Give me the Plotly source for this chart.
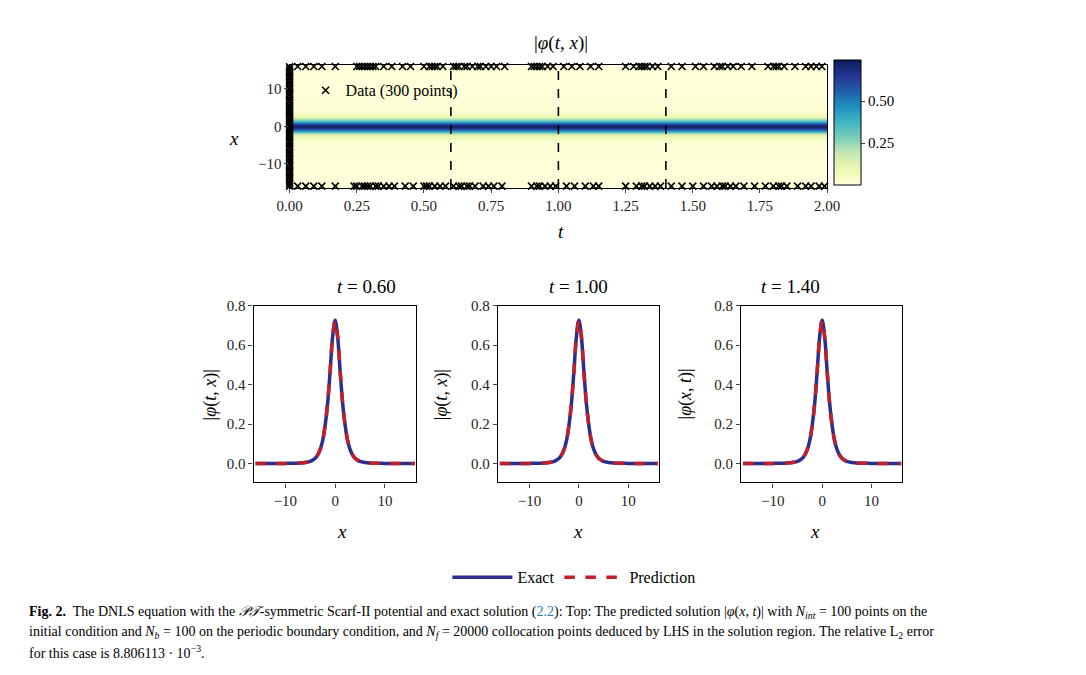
import plotly.graph_objects as go

# profile |phi| vs x
x_prof = [-16, -14, -12, -10, -8, -7, -6, -5, -4, -3.5, -3, -2.5, -2, -1.5, -1, -0.5, 0,
          0.5, 1, 1.5, 2, 2.5, 3, 3.5, 4, 5, 6, 7, 8, 10, 12, 14, 16]
phi_prof = [0.0001, 0.0002, 0.0004, 0.0013, 0.0024, 0.0035, 0.006, 0.011, 0.027, 0.044, 0.072, 0.118, 0.196, 0.308, 0.470, 0.643, 0.725,
            0.643, 0.470, 0.308, 0.196, 0.118, 0.072, 0.044, 0.027, 0.011, 0.006, 0.0035, 0.0024, 0.0013, 0.0004, 0.0002, 0.0001]
t_grid = [0.0, 2.0]
slice_times = [0.60, 1.00, 1.40]

# data points
x_init = [-16, -15.4, -14.9, -14.1, -13.6, -13.0, -12.3, -11.8, -11.1, -10.5, -9.9, -9.2, -8.6, -8.1, -7.4,
          -6.9, -6.2, -5.6, -5.0, -4.3, -3.8, -3.1, -2.5, -1.9, -1.2, -0.7, -0.1, 0.5, 1.1, 1.8, 2.3,
          3.0, 3.6, 4.2, 4.9, 5.4, 6.1, 6.7, 7.2, 7.9, 8.5, 9.1, 9.8, 10.3, 11.0, 11.6, 12.2, 12.9,
          13.4, 14.1, 14.7, 15.3, 15.9]
t_top = [0.03, 0.06, 0.09, 0.12, 0.17, 0.25, 0.26, 0.27, 0.28, 0.29, 0.30, 0.31, 0.32, 0.35, 0.38,
         0.42, 0.45, 0.50, 0.52, 0.53, 0.54, 0.55, 0.57, 0.61, 0.62, 0.63, 0.65, 0.66, 0.68, 0.70,
         0.71, 0.73, 0.75, 0.77, 0.80, 0.90, 0.91, 0.92, 0.93, 0.94, 0.96, 0.98, 1.02, 1.05, 1.08,
         1.12, 1.15, 1.25, 1.28, 1.30, 1.31, 1.32, 1.33, 1.35, 1.37, 1.42, 1.46, 1.51, 1.54, 1.58,
         1.60, 1.61, 1.63, 1.65, 1.68, 1.72, 1.78, 1.80, 1.81, 1.82, 1.84, 1.88, 1.92, 1.94, 1.96, 1.98]
t_bot = [0.03, 0.06, 0.09, 0.12, 0.17, 0.24, 0.25, 0.27, 0.28, 0.29, 0.30, 0.32, 0.33, 0.35, 0.37,
         0.39, 0.43, 0.46, 0.50, 0.51, 0.52, 0.54, 0.56, 0.58, 0.61, 0.63, 0.64, 0.66, 0.67, 0.69,
         0.72, 0.74, 0.76, 0.79, 0.90, 0.92, 0.93, 0.95, 0.97, 0.99, 1.03, 1.06, 1.10, 1.13, 1.15,
         1.25, 1.29, 1.31, 1.32, 1.34, 1.36, 1.38, 1.42, 1.46, 1.50, 1.54, 1.57, 1.59, 1.61, 1.62,
         1.64, 1.66, 1.69, 1.73, 1.77, 1.80, 1.82, 1.83, 1.85, 1.89, 1.92, 1.94, 1.97, 1.99]
x_bnd_top = 16.0
x_bnd_bot = -16.0

W, H = 1086, 675
def px(v): return ((v - 20.7) / 0.975) / W
def py(v): return 1 - (v - 12) / H
def qx(v): return v / W
def qy(v): return 1 - v / H

SERIF = "Liberation Serif"
fig = go.Figure()

z = [[v, v] for v in phi_prof]
fig.add_trace(go.Heatmap(x=t_grid, y=x_prof, z=z, colorscale="YlGnBu", zmin=0, zmax=0.74,
                         zsmooth="best", xaxis="x", yaxis="y", showscale=True,
                         colorbar=dict(x=qx(833), xanchor="left", y=qy(45), yanchor="top", xpad=0, ypad=0,
                                       len=125, lenmode="pixels", thickness=27,
                                       thicknessmode="pixels", outlinewidth=1, outlinecolor="black",
                                       tickvals=[0.25, 0.5], ticktext=["0.25", "0.50"], ticks="outside",
                                       ticklen=4, tickfont=dict(family=SERIF, size=15))))
tx = [0.0] * len(x_init) + t_top + t_bot
xx = x_init + [x_bnd_top] * len(t_top) + [x_bnd_bot] * len(t_bot)
fig.add_trace(go.Scatter(x=tx, y=xx, mode="markers", name="Data (300 points)", xaxis="x", yaxis="y",
                         marker=dict(symbol="x-thin", size=7, line=dict(width=1.6, color="black"), color="black"),
                         legend="legend2", cliponaxis=False))

xdoms = [(253, 415), (497, 658), (740, 901)]
for i, ts in enumerate(slice_times):
    xa = "x%d" % (i + 2); ya = "y%d" % (i + 2)
    fig.add_trace(go.Scatter(x=x_prof, y=phi_prof, mode="lines", line=dict(color="#2b2e8c", width=3.5, shape="spline"),
                             name="Exact", showlegend=(i == 0), xaxis=xa, yaxis=ya))
    fig.add_trace(go.Scatter(x=x_prof, y=phi_prof, mode="lines", line=dict(color="#c0202a", width=3.5, dash="dash", shape="spline"),
                             name="Prediction", showlegend=(i == 0), xaxis=xa, yaxis=ya))
    fig.add_shape(type="line", xref="x", yref="y", x0=ts, x1=ts, y0=-16.5, y1=16.3,
                  line=dict(color="black", width=1.6, dash="dash"))

ax_common = dict(showgrid=False, zeroline=False, showline=True, mirror=True, linecolor="black", linewidth=1.2,
                 ticks="outside", ticklen=4, tickfont=dict(family=SERIF, size=15, color="#222"))
layout = dict(width=W, height=H, margin=dict(l=0, r=0, t=0, b=0), plot_bgcolor="white", paper_bgcolor="white",
              font=dict(family=SERIF, color="black"))
layout["xaxis"] = dict(ax_common, domain=[px(289), px(826)], range=[0, 2], anchor="y",
                       tickvals=[0, 0.25, 0.5, 0.75, 1, 1.25, 1.5, 1.75, 2],
                       ticktext=["0.00", "0.25", "0.50", "0.75", "1.00", "1.25", "1.50", "1.75", "2.00"])
layout["yaxis"] = dict(ax_common, domain=[py(186), py(62)], range=[-16.5, 16.3], anchor="x",
                       tickvals=[-10, 0, 10], ticktext=["\u221210", "0", "10"])
for i, (a, b) in enumerate(xdoms):
    layout["xaxis%d" % (i + 2)] = dict(ax_common, domain=[px(a), px(b)], range=[-16.4, 16.2], anchor="y%d" % (i + 2),
                                       tickvals=[-10, 0, 10], ticktext=["\u221210", "0", "10"])
    layout["yaxis%d" % (i + 2)] = dict(ax_common, domain=[py(484), py(305)], range=[-0.095, 0.8], anchor="x%d" % (i + 2),
                                       tickvals=[0, 0.2, 0.4, 0.6, 0.8], ticktext=["0.0", "0.2", "0.4", "0.6", "0.8"])
layout["legend"] = dict(orientation="h", x=px(573), xanchor="center", y=py(580), yanchor="middle",
                        font=dict(family=SERIF, size=16), itemwidth=60, bgcolor="rgba(0,0,0,0)")
layout["legend2"] = dict(x=px(305), y=py(70), xanchor="left", yanchor="top", bgcolor="rgba(0,0,0,0)",
                         font=dict(family=SERIF, size=16))
fig.update_layout(**layout)

ann = []
def A(x, y, text, size=16, **kw):
    ann.append(dict(x=px(x), y=py(y), xref="paper", yref="paper", text=text, showarrow=False,
                    font=dict(family=SERIF, size=size, color="black"), **kw))
A(560, 26, "|<i>φ</i>(<i>t</i>, <i>x</i>)|", 19)
A(560, 217, "<i>t</i>", 19)
A(226, 123, "<i>x</i>", 19)
for i, (a, b) in enumerate(xdoms):
    c = (a + b) / 2
    A(c, 286, "<i>t</i> = %.2f" % slice_times[i], 19)
    A(c, 546, "<i>x</i>", 19)
    lab = "|<i>φ</i>(<i>t</i>, <i>x</i>)|" if i < 2 else "|<i>φ</i>(<i>x</i>, <i>t</i>)|"
    A(a - 56, 395, lab, 18, textangle=-90)
cap = [
    "<b>Fig. 2.</b>  The DNLS equation with the <i>𝒫𝒯</i>-symmetric Scarf-II potential and exact solution (<span style='color:#2a7ab0'>2.2</span>): Top: The predicted solution |<i>φ</i>(<i>x</i>, <i>t</i>)| with <i>N</i><sub><i>int</i></sub> = 100 points on the",
    "initial condition and <i>N</i><sub><i>b</i></sub> = 100 on the periodic boundary condition, and <i>N</i><sub><i>f</i></sub> = 20000 collocation points deduced by LHS in the solution region. The relative L<sub>2</sub> error",
    "for this case is 8.806113 · 10<sup>−3</sup>.",
]
for k, line in enumerate(cap):
    ann.append(dict(x=px(27), y=py(616 + 20 * k), xref="paper", yref="paper", text=line, showarrow=False,
                    xanchor="left", yanchor="middle", font=dict(family=SERIF, size=14, color="black")))
fig.update_layout(annotations=ann)
fig.write_html("out.html")
